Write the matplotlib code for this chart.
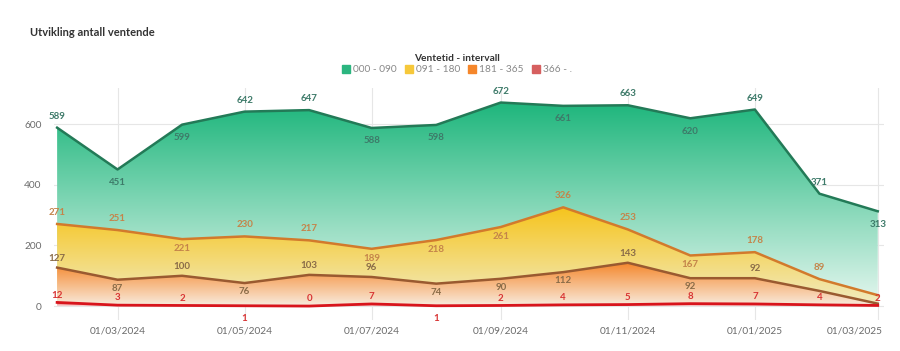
import matplotlib
matplotlib.use("Agg")
import matplotlib.pyplot as plt
import matplotlib.dates as mdates
import matplotlib.transforms as mtransforms
from matplotlib.colors import LinearSegmentedColormap
from matplotlib.lines import Line2D
import numpy as np
import datetime as dt

plt.rcParams['font.family'] = ['Lato', 'DejaVu Sans']

months = ["2024-02-01", "2024-03-01", "2024-04-01", "2024-05-01", "2024-06-01",
          "2024-07-01", "2024-08-01", "2024-09-01", "2024-10-01", "2024-11-01",
          "2024-12-01", "2025-01-01", "2025-02-01", "2025-03-01"]
series_names = ["000 - 090", "091 - 180", "181 - 365", "366 - ."]
s_000_090 = [589, 451, 599, 642, 647, 588, 598, 672, 661, 663, 620, 649, 371, 313]
s_091_180 = [271, 251, 221, 230, 217, 189, 218, 261, 326, 253, 167, 178, 89, 36]
s_181_365 = [127, 87, 100, 76, 103, 96, 74, 90, 112, 143, 92, 92, 50, 8]
s_366 = [12, 3, 2, 1, 0, 7, 1, 2, 4, 5, 8, 7, 4, 2]

tick_dates = ["2024-03-01", "2024-05-01", "2024-07-01", "2024-09-01",
              "2024-11-01", "2025-01-01", "2025-03-01"]

# label placement style (1 above, -1 below, 0 none)
pos_green = [1, -1, -1, 1, 1, -1, -1, 1, -1, 1, -1, 1, 1, -1]
pos_yellow = [1, 1, -1, 1, 1, -1, -1, -1, 1, 1, -1, 1, 1, 0]
pos_orange = [1, -1, 1, -1, 1, 1, -1, -1, -1, 1, -1, 1, 0, 0]
pos_red = [1, 1, 1, -1, 1, 1, -1, 1, 1, 1, 1, 1, 1, 1]

dates = [dt.datetime.strptime(d, "%Y-%m-%d") for d in months]
xn = mdates.date2num(dates)

fig = plt.figure(figsize=(9, 3.51), dpi=100)
ax = fig.add_axes([54/900, 1-320/351, (884-54)/900, (320-88)/351])

ymin, ymax = -46, 720
x0 = xn[0] - 1.5
x1 = xn[-1] + 3

styles = [
    dict(vals=s_000_090, top="#1eb67c", bot="#e6f7f0", line="#237a57", lab="#3d7a69",
         pos=pos_green, up=5, down=-6),
    dict(vals=s_091_180, top="#f6c41c", bot="#f1ecc4", line="#d27a2c", lab="#c4844a",
         pos=pos_yellow, up=5, down=-3.5),
    dict(vals=s_181_365, top="#f5862a", bot="#f8ecdf", line="#9a5a30", lab="#8a6c48",
         pos=pos_orange, up=3.5, down=-3),
    dict(vals=s_366, top="#e85050", bot="#f8e0e0", line="#d8141c", lab="#d83434",
         pos=pos_red, up=2, down=-6),
]

for i, st in enumerate(styles):
    v = np.array(st["vals"], dtype=float)
    vmax = max(v.max(), 1)
    poly = ax.fill_between(xn, 0, v, facecolor="none", edgecolor="none", zorder=1 + i)
    cmap = LinearSegmentedColormap.from_list("g%d" % i, [st["bot"], st["top"]])
    grad = np.linspace(0, 1, 256).reshape(-1, 1)
    im = ax.imshow(grad, cmap=cmap, aspect="auto", origin="lower",
                   extent=[xn[0], xn[-1], 0, vmax], zorder=1 + i, interpolation="bicubic")
    im.set_clip_path(poly.get_paths()[0], transform=ax.transData)
    lw = 1.8 if i < 3 else 2.0
    ax.plot(xn, v, color=st["line"], lw=lw, zorder=10 + i, solid_joinstyle="round")
    for xi, vi, p in zip(xn, v, st["pos"]):
        if p == 0:
            continue
        off = st["up"] if p > 0 else st["down"]
        va = "bottom" if p > 0 else "top"
        ax.annotate("%d" % vi, (xi, vi), xytext=(0, off), textcoords="offset points",
                    ha="center", va=va, fontsize=7, fontweight="bold",
                    color=st["lab"], zorder=20)

ax.set_xlim(x0, x1)
ax.set_ylim(ymin, ymax)

ax.set_yticks([0, 200, 400, 600])
ax.set_xticks(mdates.date2num([dt.datetime.strptime(d, "%Y-%m-%d") for d in tick_dates]))
ax.xaxis.set_major_formatter(mdates.DateFormatter("%d/%m/%Y"))
ax.tick_params(axis="both", length=0, labelsize=7.3, labelcolor="#6b6b6b")
ax.tick_params(axis="x", pad=5)
ax.tick_params(axis="y", pad=9)
ax.grid(True, color="#e6e6e6", lw=0.8, zorder=0)
ax.set_axisbelow(True)
for s in ax.spines.values():
    s.set_visible(False)

fig.canvas.draw()
last = ax.get_xticklabels()[-1]
last.set_ha("right")
last.set_transform(last.get_transform() + mtransforms.ScaledTranslation(5/100, 0, fig.dpi_scale_trans))

fig.text(30/900, 1-32/351, "Utvikling antall ventende", fontsize=8, fontweight="bold",
         color="#333333", va="center", ha="left")

leg_colors = ["#2bb57f", "#f6c83a", "#f5862a", "#d65f5f"]
handles = [Line2D([0], [0], marker="s", ls="none", markersize=6, markerfacecolor=c,
                  markeredgecolor=c) for c in leg_colors]
leg = fig.legend(handles, series_names, loc="center", bbox_to_anchor=(457/900, 1-64/351),
                 ncol=4, frameon=False, fontsize=7.3, title="Ventetid - intervall",
                 title_fontsize=7.3, handletextpad=0.3, columnspacing=0.8, borderpad=0,
                 labelspacing=0.2, handlelength=0.8)
leg.get_title().set_fontweight("bold")
leg.get_title().set_color("#333333")
for t in leg.get_texts():
    t.set_color("#888888")

fig.savefig("out.png", dpi=100)
